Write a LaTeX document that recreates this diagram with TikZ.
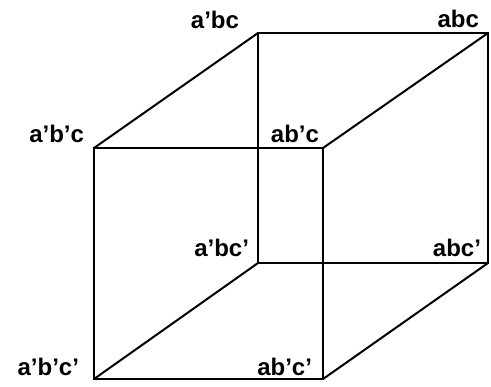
\documentclass[tikz,border=0pt]{standalone}
\usepackage{fontspec}
\setmainfont{Liberation Sans}
\usepackage{tikz}
\usetikzlibrary{positioning}

\begin{document}
\begin{tikzpicture}[x=0.75pt,y=-0.75pt,line width=1.5pt,
    lbl/.style={font=\bfseries\fontsize{18}{20}\selectfont,inner sep=0pt,anchor=base east}]
  \useasboundingbox (0,0) rectangle (491,386);
  % corners of the cube
  \foreach \n/\x/\y in {ApBpC/94/148, ABpC/323/148, ApBpCp/94/379, ABpCp/323/379,
                        ApBC/258/33, ABC/488/33, ApBCp/258/263, ABCp/488/263}{
    \coordinate (\n) at (\x,\y);
  }
  % front and back faces
  \draw (ApBpC) -- (ABpC) -- (ABpCp) -- (ApBpCp) -- cycle;
  \draw (ApBC) -- (ABC) -- (ABCp) -- (ApBCp) -- cycle;
  % edges front to back
  \foreach \f/\b in {ApBpC/ApBC, ABpC/ABC, ApBpCp/ApBCp, ABpCp/ABCp}{
    \draw (\f) -- (\b);
  }
  % labels
  \foreach \n/\t/\x/\y in {ApBC/a’bc/240/28, ABC/abc/480/27,
                           ApBpC/a’b’c/85/142, ABpC/ab’c/320/142,
                           ApBCp/a’bc’/250/256, ABCp/abc’/482/256,
                           ApBpCp/a’b’c’/80/375, ABpCp/ab’c’/313/375}{
    \node[lbl] (l\n) at (\x,\y) {\t};
  }
\end{tikzpicture}
\end{document}
